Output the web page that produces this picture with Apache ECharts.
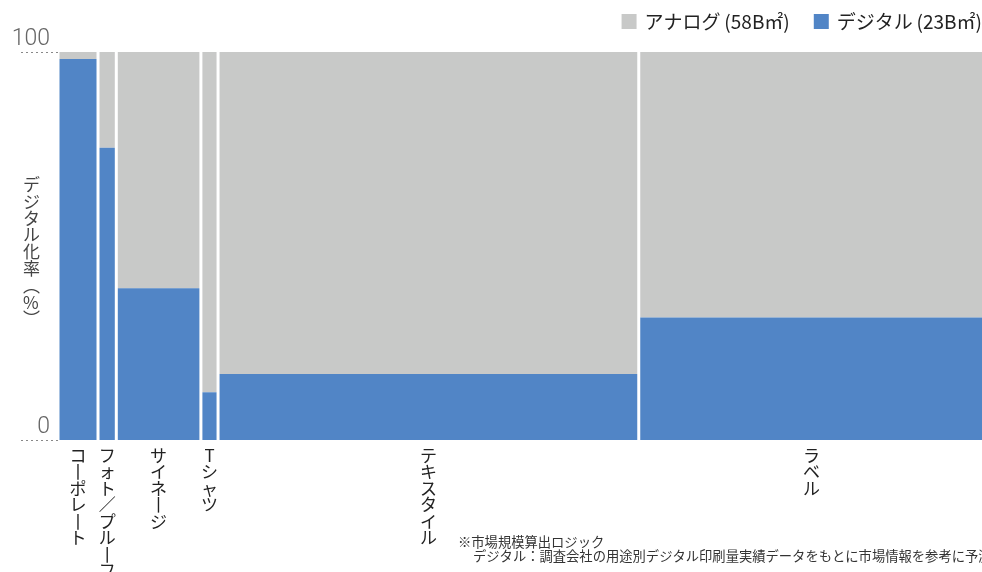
<!DOCTYPE html>
<html>
<head>
<meta charset="utf-8">
<script src="https://cdn.jsdelivr.net/npm/echarts@6/dist/echarts.min.js"></script>
<style>
  html, body { margin: 0; padding: 0; background: #fff; }
  #chart { width: 982px; height: 572px; }
</style>
</head>
<body>
<div id="chart"></div>
<script>
// 用途別の市場規模（B㎡）とデジタル化率（%）
const categories = ['コーポレート', 'フォト／プルーフ', 'サイネージ', 'Tシャツ', 'テキスタイル', 'ラベル']
const marketSize = [3.5, 1.6, 7.4, 1.5, 36.8, 30.2]
const digitalRate = [98.2, 75.3, 39.1, 12.3, 17, 31.6]
const yTicks = [0, 100]
const seriesNames = ['アナログ\u2009(58B㎡)', 'デジタル\u2009(23B㎡)']

const GRAY = '#c8c9c8'
const BLUE = '#5185c6'
const FONT = '"Noto Sans CJK JP", "Noto Sans", sans-serif'

// x方向の開始・終了位置を累積で作る
let acc = 0
const rows = categories.map((name, i) => {
  const start = acc
  acc += marketSize[i]
  return [start, acc, digitalRate[i], i]
})
const total = acc

const verticalText = (s) =>
  s.split('').map((c) => (c === 'ー' ? '丨' : c)).join('\n')

const makeRender = (isDigital) => (params, api) => {
  const start = api.value(0)
  const end = api.value(1)
  const rate = api.value(2)
  const idx = api.value(3)
  const lo = isDigital ? 0 : rate
  const hi = isDigital ? rate : 100
  const p0 = api.coord([start, hi])
  const p1 = api.coord([end, lo])
  const gap = 1.5
  const children = [
    {
      type: 'rect',
      shape: { x: p0[0] + gap, y: p0[1], width: p1[0] - p0[0] - gap * 2, height: p1[1] - p0[1] },
      style: { fill: isDigital ? BLUE : GRAY }
    }
  ]
  if (!isDigital) {
    const base = api.coord([(start + end) / 2, 0])
    children.push({
      type: 'text',
      x: base[0],
      y: base[1] + 7,
      style: {
        text: verticalText(categories[idx]),
        fill: '#222',
        font: '17px ' + FONT,
        lineHeight: 16.5,
        align: 'center',
        verticalAlign: 'top'
      }
    })
  }
  return { type: 'group', children }
}

const chart = echarts.init(document.getElementById('chart'))
chart.setOption({
  animation: false,
  color: [GRAY, BLUE],
  grid: { left: 58, width: 926, top: 52, bottom: 132, outerBoundsMode: 'none' },
  legend: {
    data: seriesNames,
    right: -5,
    top: 7,
    itemWidth: 15,
    itemHeight: 15,
    itemGap: 24,
    icon: 'rect',
    textStyle: { fontSize: 19, color: '#222', fontFamily: FONT, padding: [0, 0, 0, 3] }
  },
  xAxis: {
    type: 'value',
    min: 0,
    max: total,
    show: false
  },
  yAxis: {
    type: 'value',
    min: yTicks[0],
    max: yTicks[yTicks.length - 1],
    interval: 100,
    offset: 6,
    axisLine: { show: false },
    splitLine: { show: false },
    axisTick: {
      show: true,
      length: 38,
      lineStyle: { color: '#888', type: [2, 3], width: 1 }
    },
    axisLabel: {
      margin: 2,
      fontSize: 23,
      fontWeight: 300,
      color: '#666',
      fontFamily: 'Roboto, sans-serif',
      verticalAlign: 'bottom',
      padding: [0, 0, 1, 0],
      formatter: (v) => (yTicks.includes(v) ? String(v) : '')
    }
  },
  graphic: [
    {
      type: 'text',
      left: 23,
      top: 176,
      style: {
        text: 'デ\nジ\nタ\nル\n化\n率\n︵\n%\n︶',
        fill: '#444',
        font: '17px ' + FONT,
        lineHeight: 16.8,
        align: 'center'
      }
    },
    {
      type: 'text',
      left: 458,
      top: 535,
      style: { text: '※市場規模算出ロジック', fill: '#333', font: '13.3px ' + FONT }
    },
    {
      type: 'text',
      left: 473,
      top: 549,
      style: {
        text: 'デジタル：調査会社の用途別デジタル印刷量実績データをもとに市場情報を参考に予測',
        fill: '#333',
        font: '13.3px ' + FONT
      }
    }
  ],
  series: [
    {
      name: seriesNames[0],
      type: 'custom',
      renderItem: makeRender(false),
      encode: { x: [0, 1], y: 2 },
      data: rows
    },
    {
      name: seriesNames[1],
      type: 'custom',
      renderItem: makeRender(true),
      encode: { x: [0, 1], y: 2 },
      data: rows
    }
  ]
})
</script>
</body>
</html>
